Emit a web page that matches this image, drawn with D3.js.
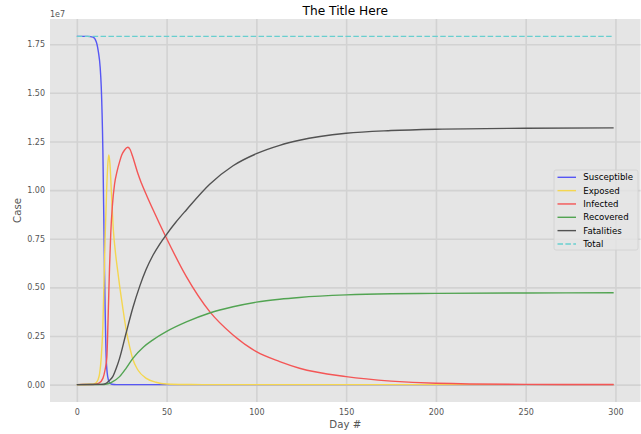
<!DOCTYPE html>
<html>
<head>
<meta charset="utf-8">
<script src="https://cdn.jsdelivr.net/npm/d3@7"></script>
<style>
  body { margin: 0; background: #fff; }
  text { font-family: "DejaVu Sans", sans-serif; }
</style>
</head>
<body>
<div id="chart"></div>
<script>
"use strict";

// values in millions, [day, value]
const susceptible = [[0,17.9],[6,17.9],[9,17.86],[10.8,17.63],[12,17.1],[13,16.3],[13.6,15.3],[14.5,12.06],
  [15.4,5.9],[16.4,1.26],[17.2,0.4],[18.2,0.1],[19.5,0.02],[22,0],[299,0]];
const exposed = [[0,0],[8,0.015],[9.7,0.04],[10.7,0.09],[11.7,0.23],[12.7,0.58],[13.6,1.4],[14.5,3.0],
  [15.7,7.4],[16.6,10.0],[17.3,11.4],[17.8,11.8],[18.4,11.4],[19.3,9.8],[20.3,8.0],[21.6,6.7],[22.9,5.75],
  [23.8,5.1],[25.5,4.0],[27.5,2.8],[29.4,1.95],[31.2,1.3],[34,0.75],[38.7,0.32],[44,0.12],[50,0.03],
  [60,0.005],[70,0],[299,0]];
const infected = [[0,0],[8,0.005],[10,0.02],[12.3,0.07],[14.5,0.32],[15.7,0.75],[16.7,1.4],[17.5,3.7],
  [18.2,6.0],[18.9,7.8],[19.8,9.2],[21,10.3],[22.5,11.0],[23.8,11.45],[25,11.8],[26.6,12.06],[28.4,12.2],
  [29.6,12.1],[31,11.75],[32.5,11.3],[34,10.85],[36,10.35],[39,9.7],[42.4,9.0],[46,8.28],[49.8,7.55],
  [61,5.55],[74,3.75],[87,2.55],[100,1.69],[113,1.18],[124,0.84],[150,0.41],[175,0.18],[200,0.07],
  [250,0.012],[299,0.002]];
const recovered = [[0,0],[14,0.005],[16,0.02],[18.2,0.07],[20,0.15],[23.8,0.41],[27.5,0.85],[31.2,1.35],
  [37,1.92],[42.4,2.3],[49.8,2.72],[61,3.22],[74,3.68],[87,4.0],[100,4.24],[113,4.39],[124,4.48],
  [150,4.61],[175,4.67],[200,4.69],[250,4.71],[299,4.72]];
const fatalities = [[0,0],[14,0.01],[16,0.05],[18,0.2],[20,0.41],[22,0.85],[23.8,1.35],[27.3,2.6],
  [31.2,3.95],[35,5.05],[38.5,5.9],[42.4,6.65],[46,7.2],[49.8,7.7],[55,8.33],[61,8.98],[74,10.3],
  [87,11.25],[100,11.87],[113,12.3],[124,12.56],[150,12.92],[175,13.06],[200,13.13],[250,13.18],[299,13.2]];
const total = [[0,17.9],[299,17.9]];

const seriesNames = ["Susceptible", "Exposed", "Infected", "Recovered", "Fatalities", "Total"];
const seriesData = [susceptible, exposed, infected, recovered, fatalities, total];
const seriesColors = ["#5656f4", "#f4d650", "#f45656", "#52a452", "#525252", "#68cfcf"];
const xTicks = [0, 50, 100, 150, 200, 250, 300];
const yTicks = [0, 2.5, 5, 7.5, 10, 12.5, 15, 17.5];

const msm = {
    width: 641,
    height: 434,
    left: 50,
    right: 640.5,
    top: 19,
    bottom: 402
}

let svg = d3.select("#chart")
    .append("svg")
    .attr("width", msm.width)
    .attr("height", msm.height);

let xScale = d3.scaleLinear()
    .domain([-14.95, 313.95])
    .range([msm.left, msm.right]);

let yScale = d3.scaleLinear()
    .domain([-0.895, 18.795])
    .range([msm.bottom, msm.top]);

svg.append("rect")
    .attr("x", msm.left)
    .attr("y", msm.top)
    .attr("width", msm.right - msm.left)
    .attr("height", msm.bottom - msm.top)
    .attr("fill", "#e5e5e5");

// grid
let xGrid = d3.axisBottom(xScale).tickValues(xTicks).tickSize(-(msm.bottom - msm.top)).tickFormat("");
svg.append("g")
    .attr("transform", "translate(0," + msm.bottom + ")")
    .call(xGrid)
    .call(g => g.select(".domain").remove())
    .selectAll("line").attr("stroke", "#d2d2d2").attr("stroke-width", 1.6);

let yGrid = d3.axisLeft(yScale).tickValues(yTicks).tickSize(-(msm.right - msm.left)).tickFormat("");
svg.append("g")
    .attr("transform", "translate(" + msm.left + ",0)")
    .call(yGrid)
    .call(g => g.select(".domain").remove())
    .selectAll("line").attr("stroke", "#d2d2d2").attr("stroke-width", 1.6);

// tick labels
let xAxis = d3.axisBottom(xScale).tickValues(xTicks).tickSize(0).tickPadding(7);
svg.append("g")
    .attr("transform", "translate(0," + msm.bottom + ")")
    .call(xAxis)
    .call(g => g.select(".domain").remove())
    .selectAll("text")
    .attr("fill", "#555")
    .style("font-size", "8px")
    .style("font-family", "DejaVu Sans");

let yAxis = d3.axisLeft(yScale).tickValues(yTicks).tickSize(0).tickPadding(5)
    .tickFormat(d => (d / 10).toFixed(2));
svg.append("g")
    .attr("transform", "translate(" + msm.left + ",0)")
    .call(yAxis)
    .call(g => g.select(".domain").remove())
    .selectAll("text")
    .attr("fill", "#555")
    .style("font-size", "8px")
    .style("font-family", "DejaVu Sans");

svg.append("text")
    .attr("x", msm.left)
    .attr("y", 16.5)
    .attr("fill", "#555")
    .style("font-size", "8px")
    .text("1e7");

// lines
let line = d3.line()
    .x(d => xScale(d[0]))
    .y(d => yScale(d[1]))
    .curve(d3.curveMonotoneX);

seriesData.forEach((s, i) => {
    svg.append("path")
        .datum(s)
        .attr("fill", "none")
        .attr("stroke", seriesColors[i])
        .attr("stroke-width", 1.4)
        .attr("stroke-dasharray", seriesNames[i] == "Total" ? "5.5,2.4" : null)
        .attr("d", line);
});

// labels
svg.append("text")
    .attr("x", (msm.left + msm.right) / 2)
    .attr("y", 14.5)
    .attr("text-anchor", "middle")
    .attr("fill", "#000")
    .style("font-size", "12.2px")
    .text("The Title Here");

svg.append("text")
    .attr("x", (msm.left + msm.right) / 2)
    .attr("y", 428)
    .attr("text-anchor", "middle")
    .attr("fill", "#555")
    .style("font-size", "10.2px")
    .text("Day #");

svg.append("text")
    .attr("transform", "translate(21," + ((msm.top + msm.bottom) / 2) + ") rotate(-90)")
    .attr("text-anchor", "middle")
    .attr("fill", "#555")
    .style("font-size", "10.2px")
    .text("Case");

// legend
let legend = svg.append("g");
legend.append("rect")
    .attr("x", 554)
    .attr("y", 170)
    .attr("width", 84)
    .attr("height", 80)
    .attr("rx", 2)
    .attr("fill", "#e5e5e5")
    .attr("fill-opacity", 0.8)
    .attr("stroke", "#d0d0d0")
    .attr("stroke-width", 0.8);

seriesNames.forEach((name, i) => {
    let yy = 177.3 + i * 13.33;
    legend.append("line")
        .attr("x1", 557.5)
        .attr("x2", 576)
        .attr("y1", yy)
        .attr("y2", yy)
        .attr("stroke", seriesColors[i])
        .attr("stroke-width", 1.4)
        .attr("stroke-dasharray", name == "Total" ? "5.5,2.4" : null);
    legend.append("text")
        .attr("x", 583.3)
        .attr("y", yy)
        .attr("dy", "0.35em")
        .attr("fill", "#000")
        .style("font-size", "8.6px")
        .text(name);
});
</script>
</body>
</html>
